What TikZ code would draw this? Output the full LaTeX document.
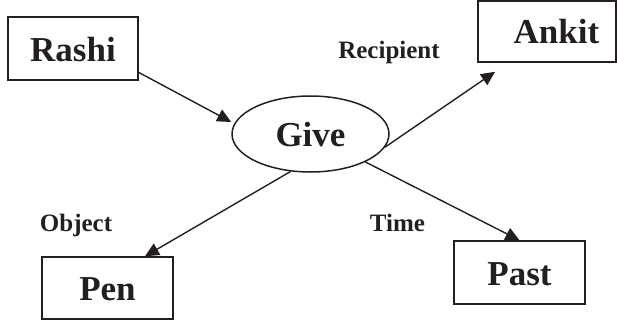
\documentclass[tikz,border=0pt]{standalone}
\usepackage{fontspec}
\setmainfont{Liberation Serif}
\usetikzlibrary{arrows.meta,shapes.geometric}
\definecolor{ink}{HTML}{231F20}
\begin{document}
\begin{tikzpicture}[x=1pt,y=-1pt,
  every node/.style={text=ink},
  box/.style={draw=ink, line width=1.5pt, rectangle, inner sep=0pt,
    minimum width=131pt, minimum height=62pt,
    font=\fontsize{35}{40}\selectfont\bfseries, text height=25pt, text depth=0pt},
  oval/.style={draw=ink, line width=1.5pt, ellipse, inner sep=0pt,
    minimum width=157pt, minimum height=76pt,
    font=\fontsize{35}{40}\selectfont\bfseries, text height=25pt, text depth=0pt},
  lbl/.style={anchor=base, inner sep=0pt, font=\fontsize{25}{30}\selectfont\bfseries},
  arr/.style={draw=ink, line width=1.4pt, -{Triangle[length=14pt,width=13pt]}}
]
\useasboundingbox (0,0) rectangle (617,321);
\node[box, minimum width=130pt, minimum height=63pt] (rashi) at (73,48.5) {Rashi};
\node[box, minimum width=138pt, minimum height=61pt] (ankit) at (547,31.5) {\hspace*{19pt}Ankit};
\node[box] (pen) at (107.5,288) {Pen};
\node[box, minimum height=63pt] (past) at (519.5,272.5) {Past};
\node[oval] (give) at (310.5,134) {Give};
\node[lbl] (recipient) at (389,58) {Recipient};
\node[lbl] (object) at (76,231.7) {Object};
\node[lbl] (time) at (397.5,231.7) {Time};
\draw[arr] (rashi.-20) -- ([yshift=12pt]give.west);
\draw[arr, shorten >=16pt] (give.-10) -- ([xshift=31pt]ankit.south west);
\draw[arr] (give.-118) -- ([xshift=37.5pt]pen.north);
\draw[arr] (give.-27) -- (past.north);
\end{tikzpicture}
\end{document}
